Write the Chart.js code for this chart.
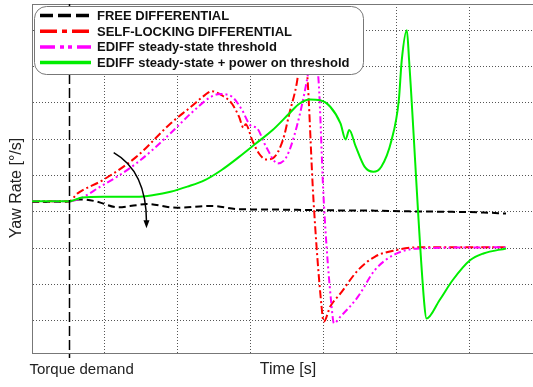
<!DOCTYPE html>
<html>
<head>
<meta charset="utf-8">
<script src="https://cdn.jsdelivr.net/npm/chart.js@4"></script>
<style>
  html, body { margin: 0; padding: 0; background: #fff; }
  #wrap { width: 533px; height: 387px; position: relative; }
</style>
</head>
<body>
<div id="wrap"><canvas id="yawChart"></canvas></div>
<script>
// Yaw rate response after a torque demand (grid units, no tick labels)

const xTicks = [0, 1, 2, 3, 4, 5, 6];
const yTicks = [0, 1, 2, 3, 4, 5, 6, 7, 8];
const torqueDemandT = 0.51;

// FREE DIFFERENTIAL
const freeT   = [0, 0.51, 0.64, 0.87, 1.18, 1.43, 1.57, 1.99, 2.46, 2.83, 3.30, 4.00, 4.70, 5.17, 5.63, 6.19, 6.50];
const freeYaw = [3.27, 3.28, 3.34, 3.29, 3.12, 3.18, 3.21, 3.11, 3.16, 3.07, 3.06, 3.04, 3.03, 3.01, 3.00, 2.98, 2.95];

// SELF-LOCKING DIFFERENTIAL
const lockT   = [0, 0.51, 0.62, 0.97, 1.43, 1.90, 2.18, 2.37, 2.46, 2.60, 2.74, 2.84, 2.90, 2.93, 3.02, 3.11, 3.21, 3.30, 3.44, 3.53, 3.63, 3.71, 3.77, 3.86, 3.97, 4.00, 4.09, 4.23, 4.47, 4.70, 4.98, 5.31, 6.50];
const lockYaw = [3.29, 3.29, 3.50, 3.87, 4.51, 5.43, 5.89, 6.21, 6.32, 6.21, 5.98, 5.61, 5.31, 5.41, 4.97, 4.61, 4.44, 4.47, 4.97, 5.71, 6.53, 7.60, 6.90, 3.32, 0.40, -0.03, 0.39, 0.75, 1.39, 1.76, 1.94, 2.02, 2.02];

// EDIFF steady-state threshold
const ssT   = [0, 0.51, 0.97, 1.43, 1.90, 2.18, 2.46, 2.58, 2.74, 2.88, 2.99, 3.09, 3.21, 3.37, 3.49, 3.63, 3.77, 3.85, 3.93, 4.00, 4.11, 4.14, 4.23, 4.47, 4.70, 4.98, 5.31, 6.50];
const ssYaw = [3.29, 3.29, 3.73, 4.33, 5.16, 5.71, 6.17, 6.24, 6.17, 5.80, 5.39, 5.29, 4.79, 4.33, 4.51, 5.34, 6.62, 7.60, 6.60, 3.32, 0.35, -0.07, 0.11, 0.66, 1.39, 1.83, 1.99, 2.02];

// EDIFF steady-state + power on threshold
const powT   = [0, 0.51, 0.69, 0.97, 1.43, 1.67, 1.90, 2.13, 2.37, 2.60, 2.84, 3.07, 3.30, 3.53, 3.67, 3.81, 3.95, 4.09, 4.23, 4.30, 4.35, 4.44, 4.56, 4.68, 4.79, 4.93, 5.03, 5.07, 5.14, 5.17, 5.38, 5.41, 5.59, 5.77, 6.01, 6.19, 6.50];
const powYaw = [3.29, 3.29, 3.39, 3.41, 3.41, 3.46, 3.55, 3.69, 3.87, 4.15, 4.51, 4.88, 5.25, 5.71, 5.98, 6.09, 6.07, 5.89, 5.43, 4.99, 5.25, 4.79, 4.24, 4.10, 4.24, 4.97, 6.07, 7.17, 8.00, 7.20, 0.45, 0.06, 0.57, 1.12, 1.67, 1.85, 1.99];

// curved arrow (grid units)
const arrowStart = { x: 1.12, y: 4.63 };
const arrowCtrl  = { x: 1.57, y: 4.12 };
const arrowEnd   = { x: 1.57, y: 2.63 };

const legendDash = [[13, 5], [17, 5, 5, 5], [15, 5, 4, 4, 4, 5], []];

function toPoints(t, v) {
  return t.map((x, i) => ({ x, y: v[i] }));
}

const overlayPlugin = {
  id: 'overlay',
  afterDraw(chart) {
    const { ctx, chartArea, scales } = chart;
    const sx = scales.x, sy = scales.y;
    ctx.save();

    // top frame line
    ctx.strokeStyle = '#777';
    ctx.lineWidth = 1;
    ctx.beginPath();
    ctx.moveTo(chartArea.left, chartArea.top + 0.5);
    ctx.lineTo(chartArea.right, chartArea.top + 0.5);
    ctx.stroke();

    // torque demand marker
    const xd = Math.round(sx.getPixelForValue(torqueDemandT)) + 0.5;
    ctx.strokeStyle = '#000';
    ctx.lineWidth = 1.5;
    ctx.setLineDash([10, 4]);
    ctx.beginPath();
    ctx.moveTo(xd, chartArea.top);
    ctx.lineTo(xd, chartArea.bottom + 5);
    ctx.stroke();
    ctx.setLineDash([]);

    // curved arrow
    const p0 = { x: sx.getPixelForValue(arrowStart.x), y: sy.getPixelForValue(arrowStart.y) };
    const pc = { x: sx.getPixelForValue(arrowCtrl.x), y: sy.getPixelForValue(arrowCtrl.y) };
    const p1 = { x: sx.getPixelForValue(arrowEnd.x), y: sy.getPixelForValue(arrowEnd.y) };
    ctx.lineWidth = 1.5;
    ctx.beginPath();
    ctx.moveTo(p0.x, p0.y);
    ctx.quadraticCurveTo(pc.x, pc.y, p1.x, p1.y - 3);
    ctx.stroke();
    ctx.fillStyle = '#000';
    ctx.beginPath();
    ctx.moveTo(p1.x, p1.y + 3);
    ctx.lineTo(p1.x - 3, p1.y - 5);
    ctx.lineTo(p1.x + 3, p1.y - 5);
    ctx.closePath();
    ctx.fill();

    // legend box
    ctx.beginPath();
    ctx.roundRect(34.5, 6.5, 329, 68, 12);
    ctx.fillStyle = '#fff';
    ctx.fill();
    ctx.strokeStyle = '#777';
    ctx.lineWidth = 1;
    ctx.stroke();

    ctx.font = 'bold 13px "Liberation Sans", Arial, sans-serif';
    ctx.textBaseline = 'middle';
    chart.data.datasets.forEach((ds, i) => {
      const y = 15.5 + i * 15.7;
      ctx.strokeStyle = ds.borderColor;
      ctx.lineWidth = 3.5;
      ctx.setLineDash(legendDash[i]);
      ctx.beginPath();
      ctx.moveTo(40, y);
      ctx.lineTo(91, y);
      ctx.stroke();
      ctx.setLineDash([]);
      ctx.fillStyle = '#111';
      ctx.fillText(ds.label, 97, y + 1);
    });

    // axis texts
    ctx.fillStyle = '#222';
    ctx.font = '15px "Liberation Sans", Arial, sans-serif';
    ctx.textAlign = 'left';
    ctx.fillText('Torque demand', 29.5, 370);
    ctx.font = '16px "Liberation Sans", Arial, sans-serif';
    ctx.textAlign = 'center';
    ctx.fillText('Time [s]', 288, 370);
    ctx.translate(17, 188);
    ctx.rotate(-Math.PI / 2);
    ctx.fillText('Yaw Rate [°/s]', 0, 0);

    ctx.restore();
  }
};

const ctx = document.getElementById('yawChart');

new Chart(ctx, {
  type: 'line',
  data: {
    datasets: [
      {
        label: 'FREE DIFFERENTIAL',
        data: toPoints(freeT, freeYaw),
        borderColor: '#000000',
        borderDash: [7, 4],
        order: 3
      },
      {
        label: 'SELF-LOCKING DIFFERENTIAL',
        data: toPoints(lockT, lockYaw),
        borderColor: '#ff0000',
        borderDash: [8, 3, 2, 3],
        order: 2
      },
      {
        label: 'EDIFF steady-state threshold',
        data: toPoints(ssT, ssYaw),
        borderColor: '#ff00ff',
        borderDash: [7, 3, 2, 3, 2, 3],
        order: 1
      },
      {
        label: 'EDIFF steady-state + power on threshold',
        data: toPoints(powT, powYaw),
        borderColor: '#00ee00',
        borderDash: [],
        order: 0
      }
    ]
  },
  options: {
    responsive: true,
    maintainAspectRatio: false,
    animation: false,
    layout: {
      padding: { left: 32, top: 4, right: 0, bottom: 34 }
    },
    elements: {
      line: {
        borderWidth: 2,
        cubicInterpolationMode: 'monotone',
        fill: false
      },
      point: { radius: 0 }
    },
    plugins: {
      legend: { display: false },
      tooltip: { enabled: false }
    },
    scales: {
      x: {
        type: 'linear',
        min: 0,
        max: 6.87,
        afterBuildTicks: scale => { scale.ticks = xTicks.map(value => ({ value })); },
        ticks: { display: false },
        grid: { color: '#555', lineWidth: 1, drawTicks: false },
        border: { display: true, color: '#777', width: 1, dash: [1, 2] }
      },
      y: {
        type: 'linear',
        min: -0.89,
        max: 8.72,
        afterBuildTicks: scale => { scale.ticks = yTicks.map(value => ({ value })); },
        ticks: { display: false },
        grid: { color: '#555', lineWidth: 1, drawTicks: false },
        border: { display: true, color: '#777', width: 1, dash: [1, 2] }
      }
    }
  },
  plugins: [overlayPlugin]
});
</script>
</body>
</html>
